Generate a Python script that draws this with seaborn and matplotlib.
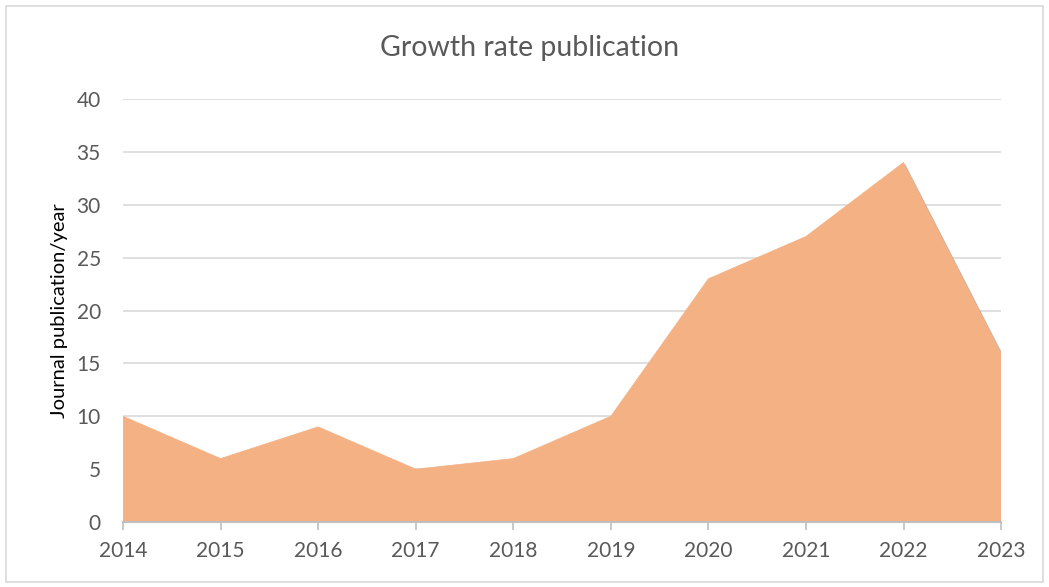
import matplotlib
matplotlib.use("Agg")
import matplotlib.pyplot as plt
import matplotlib.patheffects as pe
from matplotlib.patches import Rectangle
import seaborn as sns
import pandas as pd

years = [2014, 2015, 2016, 2017, 2018, 2019, 2020, 2021, 2022, 2023]
publications = [10, 6, 9, 5, 6, 10, 23, 27, 34, 16]
y_ticks = [0, 5, 10, 15, 20, 25, 30, 35, 40]

df = pd.DataFrame({"year": years, "count": publications})

sns.set_theme(style="white")
plt.rcParams["font.family"] = ["Lato", "DejaVu Sans"]

fig = plt.figure(figsize=(10.49, 5.87), dpi=100)
ax = fig.add_axes([0.1173, 0.1107, 0.8370, 0.7206])

fill_color = "#F4B183"
sns.lineplot(data=df, x="year", y="count", ax=ax, color=fill_color, linewidth=0.5)
area = ax.fill_between(df["year"], df["count"], 0, color=fill_color, linewidth=0, zorder=2)
area.set_path_effects([
    pe.SimplePatchShadow(offset=(1.5, -1.5), shadow_rgbFace="#7f7f7f", alpha=0.35),
    pe.Normal(),
])

ax.set_xlim(years[0], years[-1])
ax.set_ylim(0, 40)
ax.set_yticks(y_ticks)
ax.set_xticks(years)
ax.yaxis.grid(True, color="#D9D9D9", linewidth=1.2, zorder=0)
ax.set_axisbelow(True)

for side in ["top", "right", "left"]:
    ax.spines[side].set_visible(False)
ax.spines["bottom"].set_color("#BFBFBF")
ax.spines["bottom"].set_linewidth(1.5)
ax.spines["bottom"].set_zorder(3)

ax.tick_params(axis="x", which="both", bottom=True, length=6, width=1.2,
               color="#BFBFBF", direction="out", labelsize=15,
               labelcolor="#595959", pad=8)
ax.tick_params(axis="y", left=False, labelsize=15, labelcolor="#595959", pad=10)

ax.set_xlabel("")
ax.set_ylabel("Journal publication/year", fontsize=14.5, color="black", labelpad=6)
fig.text(0.505, 0.918, "Growth rate publication", ha="center", va="center",
         fontsize=20.5, color="#595959")

fig.patches.append(Rectangle((0.006, 0.008), 0.988, 0.982, transform=fig.transFigure,
                             fill=False, edgecolor="#D9D9D9", linewidth=1.2))

fig.savefig("out.png", dpi=100, facecolor="white")
